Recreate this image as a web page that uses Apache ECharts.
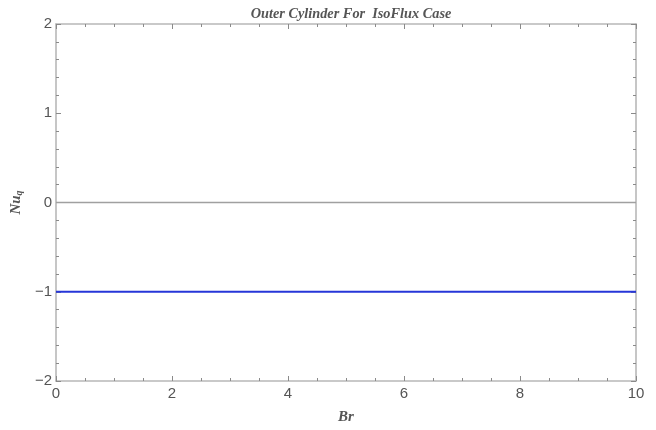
<!DOCTYPE html>
<html>
<head>
<meta charset="utf-8">
<script src="https://cdn.jsdelivr.net/npm/echarts@6/dist/echarts.min.js"></script>
<style>
  html, body { margin: 0; padding: 0; background: #fff; }
  #chart { width: 656px; height: 430px; }
</style>
</head>
<body>
<div id="chart"></div>
<script>
// Br range and the Nusselt number for the outer cylinder
const brValues = [0, 10];
const nuValues = [-1, -1];
const zeroLine = [0, 0];
const xTicks = [0, 2, 4, 6, 8, 10];
const yTicks = [-2, -1, 0, 1, 2];

const frameColor = '#b8b8b8';
const tickColor = '#8a8a8a';
const labelColor = '#555555';
const serif = '"Liberation Serif", "DejaVu Serif", serif';
const sans = '"Liberation Sans", Arial, sans-serif';

const fmt = v => String(v).replace('-', '\u2212');

function frameAxis(pos, isX, showLabels) {
  return {
    type: 'value',
    position: pos,
    min: isX ? xTicks[0] : yTicks[0],
    max: isX ? xTicks[xTicks.length - 1] : yTicks[yTicks.length - 1],
    interval: isX ? 2 : 1,
    axisLine: { show: true, onZero: false, lineStyle: { color: frameColor, width: 1.6 } },
    axisTick: { show: true, inside: true, length: 5, lineStyle: { color: tickColor, width: 1 } },
    minorTick: { show: true, splitNumber: isX ? 4 : 5, length: 3, lineStyle: { color: tickColor, width: 1 } },
    splitLine: { show: false },
    axisLabel: {
      show: showLabels,
      color: labelColor,
      fontFamily: sans,
      fontSize: 15,
      margin: isX ? 5 : 4,
      formatter: fmt
    }
  };
}

const chart = echarts.init(document.getElementById('chart'), null, { renderer: 'canvas' });

const xBottom = frameAxis('bottom', true, true);
xBottom.name = 'Br';
xBottom.nameLocation = 'middle';
xBottom.nameGap = 29;
xBottom.nameTextStyle = { fontFamily: serif, fontStyle: 'italic', fontWeight: 'bold', fontSize: 15, color: labelColor };

const yLeft = frameAxis('left', false, true);
yLeft.name = '{n|Nu}{s|q}';
yLeft.nameLocation = 'middle';
yLeft.nameGap = 32;
yLeft.nameRotate = 90;
yLeft.nameTextStyle = {
  rich: {
    n: { fontFamily: serif, fontStyle: 'italic', fontWeight: 'bold', fontSize: 15, color: labelColor },
    s: { fontFamily: serif, fontStyle: 'italic', fontWeight: 'bold', fontSize: 10, color: labelColor, padding: [6, 0, 0, 0] }
  }
};

chart.setOption({
  animation: false,
  backgroundColor: '#ffffff',
  title: {
    text: 'Outer Cylinder For  IsoFlux Case',
    left: 346,
    textAlign: 'center',
    top: 2,
    textStyle: { fontFamily: serif, fontStyle: 'italic', fontWeight: 'bold', fontSize: 14.3, color: labelColor }
  },
  grid: { left: 56, right: 20, top: 24, bottom: 47, containLabel: false },
  xAxis: [xBottom, frameAxis('top', true, false)],
  yAxis: [yLeft, frameAxis('right', false, false)],
  series: [
    {
      name: 'axis',
      type: 'line',
      data: brValues.map((x, i) => [x, zeroLine[i]]),
      symbol: 'none',
      lineStyle: { color: '#a0a0a0', width: 1.5 },
      silent: true,
      z: 1
    },
    {
      name: 'Nu',
      type: 'line',
      data: brValues.map((x, i) => [x, nuValues[i]]),
      symbol: 'none',
      lineStyle: { color: '#2636d8', width: 2 },
      z: 2
    }
  ]
});
</script>
</body>
</html>
